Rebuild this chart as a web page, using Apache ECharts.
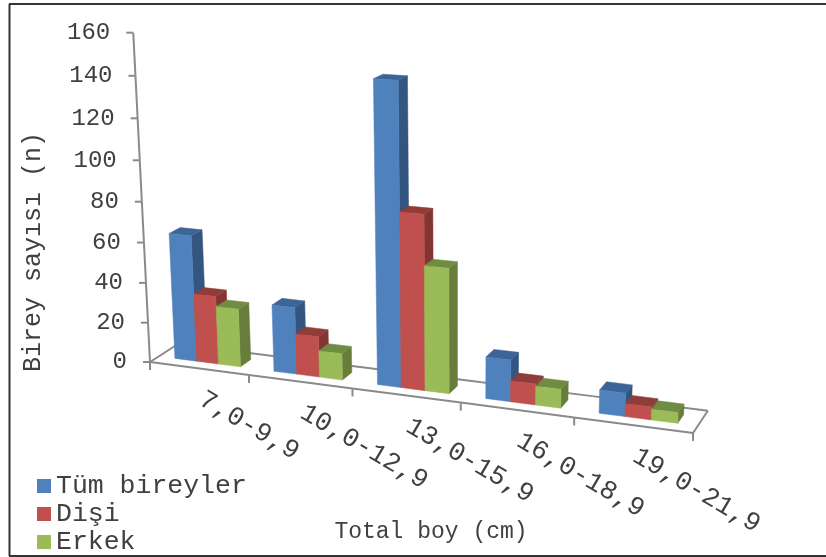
<!DOCTYPE html>
<html>
<head>
<meta charset="utf-8">
<style>html,body{margin:0;padding:0;background:#fff}#chart{width:826px;height:557px}</style>
<script src="https://cdn.jsdelivr.net/npm/echarts@6/dist/echarts.min.js"></script>
</head>
<body>
<div id="chart"></div>
<script>
// Fish counts per total-length class
const categories = ['7,0-9,9', '10,0-12,9', '13,0-15,9', '16,0-18,9', '19,0-21,9'];
const allFish = [63, 33, 144, 20, 11];
const females = [34, 20, 84, 10, 6];
const males = [29, 13, 60, 9, 5];
const yTicks = [0, 20, 40, 60, 80, 100, 120, 140, 160];

const FONT = '"Liberation Mono", monospace';
const AXIS_COLOR = '#8a8a8a';
const TEXT_COLOR = '#404040';
const BAR_SHARE = 2 / 3;      // share of a category band taken by the three bars
const DEPTH_NEAR = 0.31, DEPTH_FAR = 0.70;

// Perspective camera: unit box (u along the categories, d into the floor, v up) to the screen
const CAM = { a: 468.2, b: 33, c: -23.6, tx: 150, e: 24.2, f: -8.37, g: -331, ty: 362, h: -0.108, i: 0.028, j: -0.0515 };
function project(u, d, v) {
  const w = CAM.h * u + CAM.i * d + CAM.j * v + 1;
  return [(CAM.a * u + CAM.b * d + CAM.c * v + CAM.tx) / w,
          (CAM.e * u + CAM.f * d + CAM.g * v + CAM.ty) / w];
}
// Grid pixels from the (hidden) axes become box coordinates, then go through the camera
function toUnit(params, pt) {
  const r = params.coordSys;
  return [(pt[0] - r.x) / r.width, (r.y + r.height - pt[1]) / r.height];
}
function face(points, fill) {
  return { type: 'polygon', shape: { points }, style: { fill, stroke: fill, lineWidth: 0.5 } };
}
function bar3d(slot, colors) {
  return function (params, api) {
    const base = toUnit(params, api.coord([api.value(0), 0]));
    const top = toUnit(params, api.coord([api.value(0), api.value(1)]));
    const band = api.size([1, 0])[0] / params.coordSys.width;
    const w = band * BAR_SHARE / 3;
    const u0 = base[0] - band * BAR_SHARE / 2 + slot * w, u1 = u0 + w;
    const v = top[1], n = DEPTH_NEAR, f = DEPTH_FAR;
    return {
      type: 'group',
      children: [
        face([project(u1, n, 0), project(u1, f, 0), project(u1, f, v), project(u1, n, v)], colors.side),
        face([project(u0, n, v), project(u1, n, v), project(u1, f, v), project(u0, f, v)], colors.top),
        face([project(u0, n, 0), project(u1, n, 0), project(u1, n, v), project(u0, n, v)], colors.front)
      ]
    };
  };
}
function segment(p, q) {
  return { type: 'line', shape: { x1: p[0], y1: p[1], x2: q[0], y2: q[1] }, style: { stroke: AXIS_COLOR, lineWidth: 2 } };
}
function label(text, x, y, size, align, rotation) {
  return { type: 'text', x, y, rotation: rotation || 0,
    style: { text, x: 0, y: 0, fontSize: size, fontFamily: FONT, fill: TEXT_COLOR, align, verticalAlign: 'middle' } };
}
function withIndex(values) { return values.map((v, i) => [i, v]); }

function barSeries(name, values, slot, colors) {
  return { type: 'custom', name, data: withIndex(values), z: 3, itemStyle: { color: colors.front },
    encode: { x: 0, y: 1 }, renderItem: bar3d(slot, colors), silent: true };
}

const option = {
  animation: false,
  backgroundColor: '#fff',
  tooltip: { show: false },
  grid: { left: 150, top: 33, width: 543, height: 329, containLabel: false },
  xAxis: { type: 'category', data: categories, show: false },
  yAxis: { type: 'value', min: 0, max: 160, interval: 20, show: false },
  legend: {
    orient: 'vertical', left: 37, top: 472.5, height: 90, padding: 0, itemWidth: 14, itemHeight: 14, itemGap: 1,
    icon: 'rect', selectedMode: false,
    data: ['Tüm bireyler', 'Dişi', 'Erkek'],
    textStyle: { fontFamily: FONT, fontSize: 26.5, color: TEXT_COLOR, lineHeight: 14 }
  },
  series: [
    { // floor outline with the category ticks and labels
      type: 'custom', silent: true, z: 1, encode: { x: 0, y: 1 },
      data: categories.map((c, i) => [i, 0]),
      renderItem(params, api) {
        const i = api.value(0);
        const band = api.size([1, 0])[0] / params.coordSys.width;
        const mid = toUnit(params, api.coord([i, 0]))[0];
        const left = mid - band / 2, right = mid + band / 2;
        const foot = project(left, 0, 0), footEnd = project(right, 0, 0), c = project(mid, 0, 0);
        const kids = [
          segment(foot, footEnd),
          segment(project(left, 1, 0), project(right, 1, 0)),
          segment(foot, [foot[0], foot[1] + 8]),
          label(categories[i], c[0] + 2, c[1] + 29, 26.5, 'left', -0.53)
        ];
        if (i === 0) kids.push(segment(foot, project(0, 1, 0)));
        if (i === categories.length - 1) {
          kids.push(segment(footEnd, project(1, 1, 0)), segment(footEnd, [footEnd[0], footEnd[1] + 8]));
        }
        return { type: 'group', children: kids };
      }
    },
    { // value axis standing at the near left corner
      type: 'custom', silent: true, z: 2, encode: { x: 0, y: 1 },
      data: yTicks.map(v => [0, v]),
      renderItem(params, api) {
        const value = api.value(1);
        const v = toUnit(params, api.coord([0, value]))[1];
        const p = project(0, 0, v);
        const kids = [
          segment([p[0] - 7, p[1]], p),
          label(String(value), p[0] - 23, p[1], 24, 'right')
        ];
        if (params.dataIndex < yTicks.length - 1) {
          const next = toUnit(params, api.coord([0, yTicks[params.dataIndex + 1]]))[1];
          kids.push(segment(p, project(0, 0, next)));
        }
        return { type: 'group', children: kids };
      }
    },
    barSeries('Tüm bireyler', allFish, 0, { front: '#4f81bd', side: '#34557f', top: '#3c6496' }),
    barSeries('Dişi', females, 1, { front: '#c0504d', side: '#833533', top: '#903c39' }),
    barSeries('Erkek', males, 2, { front: '#9bbb59', side: '#687d3b', top: '#708c42' })
  ],
  graphic: [
    { type: 'line', shape: { x1: 9.5, y1: 4, x2: 9.5, y2: 556 }, style: { stroke: '#333', lineWidth: 2 } },
    { type: 'line', shape: { x1: 9, y1: 4, x2: 826, y2: 4 }, style: { stroke: '#333', lineWidth: 2 } },
    { type: 'line', shape: { x1: 9, y1: 556, x2: 826, y2: 556 }, style: { stroke: '#333', lineWidth: 2 } },
    { type: 'text', x: 431, y: 532, style: { text: 'Total boy (cm)', x: 0, y: 0, fontSize: 23, fontFamily: FONT, fill: TEXT_COLOR, align: 'center', verticalAlign: 'middle' } },
    { type: 'text', x: 33, y: 252, rotation: Math.PI / 2, style: { text: 'Birey sayısı (n)', x: 0, y: 0, fontSize: 25, fontFamily: FONT, fill: TEXT_COLOR, align: 'center', verticalAlign: 'middle' } }
  ]
};
const chart = echarts.init(document.getElementById('chart'), null, { renderer: 'canvas' });
chart.setOption(option);
</script>
</body>
</html>
